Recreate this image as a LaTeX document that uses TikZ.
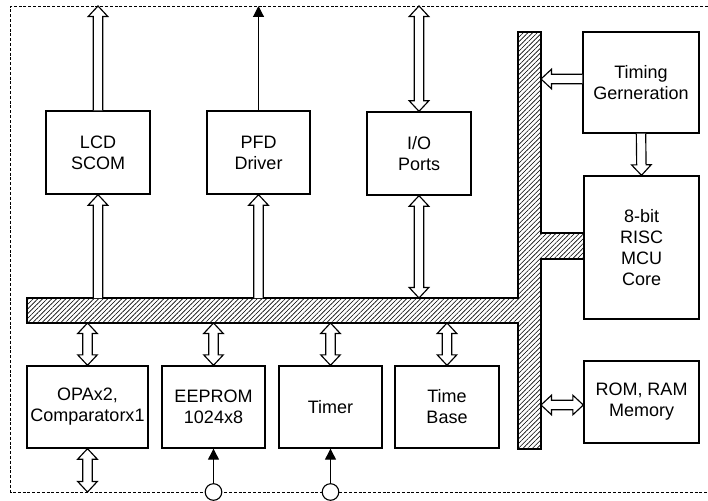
\documentclass[tikz,border=0pt]{standalone}
\usepackage{fontspec}
\setmainfont{Liberation Sans}
\usetikzlibrary{calc,arrows.meta,patterns.meta}
\tikzset{
  blk/.style={draw,line width=1.35pt,inner sep=1pt,align=center,
    font=\fontsize{18}{21}\selectfont},
  hollow/.style={draw,fill=white,line width=1.15pt,line join=miter},
  bus/.style={draw,line width=1.35pt,pattern={Lines[angle=45,distance=3.3pt,line width=0.6pt]}},
  border/.style={line width=0.9pt,dash pattern=on 3pt off 1.8pt},
  pin/.style={circle,draw,fill=white,line width=1.1pt,minimum size=16.6pt,inner sep=0pt},
  sig/.style={line width=1.1pt,-{Triangle[length=11pt,width=11pt]}}
}
% single hollow arrow, tip at #2
\newcommand\hollowA[2]{%
  \path (#1) coordinate (haA) (#2) coordinate (haB);
  \path ($(haB)!10.5pt!(haA)$) coordinate (haH);
  \path[hollow] ($(haA)!4.7pt!90:(haB)$) -- ($(haH)!4.7pt!90:(haB)$) -- ($(haH)!9.8pt!90:(haB)$)
    -- (haB) -- ($(haH)!9.8pt!-90:(haB)$) -- ($(haH)!4.7pt!-90:(haB)$) -- ($(haA)!4.7pt!-90:(haB)$);
}
% double hollow arrow
\newcommand\hollowD[2]{%
  \path (#1) coordinate (haA) (#2) coordinate (haB);
  \path ($(haB)!10.5pt!(haA)$) coordinate (haH);
  \path ($(haA)!10.5pt!(haB)$) coordinate (haG);
  \path[hollow] (haA) -- ($(haG)!9.8pt!90:(haB)$) -- ($(haG)!4.7pt!90:(haB)$) -- ($(haH)!4.7pt!90:(haB)$) -- ($(haH)!9.8pt!90:(haB)$)
    -- (haB) -- ($(haH)!9.8pt!-90:(haB)$) -- ($(haH)!4.7pt!-90:(haB)$) -- ($(haG)!4.7pt!-90:(haB)$) -- ($(haG)!9.8pt!-90:(haB)$) -- cycle;
}
\begin{document}
\begin{tikzpicture}[x=1pt,y=-1pt]
\useasboundingbox (0,0) rectangle (708,500);
% reference coordinates
\coordinate (top) at (0,6);
\coordinate (bot) at (0,492);
\coordinate (bt) at (0,298);
\coordinate (bb) at (0,323);
\coordinate (vr) at (541,0);
% dashed border
\draw[border] (708,6) -- (10.7,6) -- (10.7,492) -- (708,492);
% bus
\path[bus] (27,298) -- (518,298) -- (518,32) -- (541,32) -- (541,233) -- (584,233)
  -- (584,259) -- (541,259) -- (541,449) -- (518,449) -- (518,323) -- (27,323) -- cycle;
% blocks
\node[blk,minimum width=104pt,minimum height=83pt] (lcd) at (98,152.5) {LCD\\SCOM};
\node[blk,minimum width=103pt,minimum height=83pt] (pfd) at (258.5,152.5) {PFD\\Driver};
\node[blk,minimum width=104pt,minimum height=83pt] (io) at (419,153.5) {I/O\\Ports};
\node[blk,minimum width=116pt,minimum height=101pt] (tim) at (641,82.5) {Timing\\Gerneration};
\node[blk,minimum width=115pt,minimum height=143pt] (mcu) at (641.5,247.5) {8-bit\\RISC\\MCU\\Core};
\node[blk,minimum width=115pt,minimum height=82pt] (rom) at (641.5,402) {ROM, RAM\\Memory};
\node[blk,minimum width=121pt,minimum height=82pt] (opa) at (87.5,407) {OPAx2,\\Comparatorx1};
\node[blk,minimum width=103pt,minimum height=82pt] (eep) at (213.5,407) {EEPROM\\1024x8};
\node[blk,minimum width=103pt,minimum height=82pt] (tmr) at (330.5,407) {Timer};
\node[blk,minimum width=104pt,minimum height=82pt] (tb) at (447,407) {Time\\Base};
% hollow arrows
\hollowA{lcd.north}{lcd.north |- top}
\hollowA{lcd.south |- bt}{lcd.south}
\hollowA{pfd.south |- bt}{pfd.south}
\hollowD{io.north}{io.north |- top}
\hollowD{io.south}{io.south |- bt}
\hollowA{[yshift=3.5pt]tim.west}{[yshift=3.5pt]tim.west -| vr}
\hollowA{tim.south}{mcu.north}
\hollowD{[yshift=-3pt]rom.west}{[yshift=-3pt]rom.west -| vr}
\hollowD{opa.north}{opa.north |- bb}
\hollowD{opa.south}{opa.south |- bot}
\hollowD{eep.north}{eep.north |- bb}
\hollowD{tmr.north}{tmr.north |- bb}
\hollowD{tb.north}{tb.north |- bb}
% signal arrows
\draw[sig] (pfd.north) -- (pfd.north |- top);
\node[pin] (p1) at (eep.south |- bot) {};
\node[pin] (p2) at (tmr.south |- bot) {};
\draw[sig] (p1) -- (eep.south);
\draw[sig] (p2) -- (tmr.south);
\end{tikzpicture}
\end{document}
